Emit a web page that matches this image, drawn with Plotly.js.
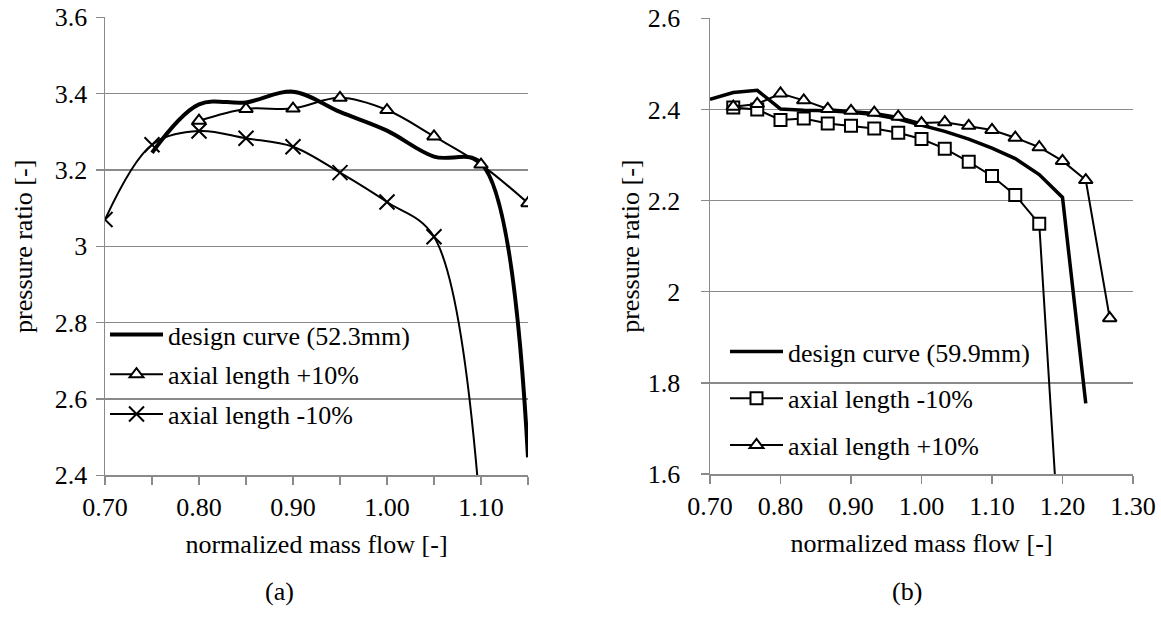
<!DOCTYPE html>
<html><head><meta charset="utf-8">
<script src="https://cdn.plot.ly/plotly-3.0.1.min.js"></script>
<style>html,body{margin:0;padding:0;background:#fff}#chart{width:1161px;height:624px}</style>
</head><body><div id="chart"></div>
<script>
// ---------- Panel (a) ----------
const aDesignX = [0.75, 0.80, 0.85, 0.90, 0.95, 1.00, 1.05, 1.10, 1.15];
const aDesignY = [3.245, 3.372, 3.377, 3.405, 3.352, 3.303, 3.235, 3.218, 2.447];
const aPlusX = [0.80, 0.85, 0.90, 0.95, 1.00, 1.05, 1.10, 1.15];
const aPlusY = [3.329, 3.360, 3.361, 3.389, 3.357, 3.288, 3.214, 3.113];
const aMinusX = [0.70, 0.75, 0.80, 0.85, 0.90, 0.95, 1.00, 1.05, 1.10];
const aMinusY = [3.070, 3.266, 3.302, 3.283, 3.261, 3.193, 3.116, 3.025, 2.280];
const aNames = ["design curve (52.3mm)", "axial length +10%", "axial length -10%"];
const aXTicks = [0.70, 0.75, 0.80, 0.85, 0.90, 0.95, 1.00, 1.05, 1.10, 1.15];
const aXText = ["0.70", "", "0.80", "", "0.90", "", "1.00", "", "1.10", ""];
const aYTicks = [2.4, 2.6, 2.8, 3.0, 3.2, 3.4, 3.6];
const aYText = ["2.4", "2.6", "2.8", "3", "3.2", "3.4", "3.6"];

// ---------- Panel (b) ----------
const bDesignX = [0.700, 0.733, 0.767, 0.800, 0.833, 0.867, 0.900, 0.933, 0.967, 1.000, 1.033, 1.067, 1.100, 1.133, 1.167, 1.200, 1.233];
const bDesignY = [2.422, 2.437, 2.442, 2.401, 2.398, 2.397, 2.394, 2.389, 2.379, 2.365, 2.352, 2.335, 2.315, 2.292, 2.257, 2.207, 1.755];
const bMinusX = [0.733, 0.767, 0.800, 0.833, 0.867, 0.900, 0.933, 0.967, 1.000, 1.033, 1.067, 1.100, 1.133, 1.167, 1.200];
const bMinusY = [2.404, 2.400, 2.377, 2.380, 2.369, 2.364, 2.358, 2.349, 2.335, 2.314, 2.285, 2.254, 2.212, 2.149, 1.330];
const bPlusX = [0.733, 0.767, 0.800, 0.833, 0.867, 0.900, 0.933, 0.967, 1.000, 1.033, 1.067, 1.100, 1.133, 1.167, 1.200, 1.233, 1.267];
const bPlusY = [2.406, 2.412, 2.435, 2.420, 2.401, 2.397, 2.393, 2.384, 2.370, 2.372, 2.364, 2.355, 2.338, 2.317, 2.287, 2.245, 1.942];
const bNames = ["design curve (59.9mm)", "axial length -10%", "axial length +10%"];
const bXTicks = [0.70, 0.80, 0.90, 1.00, 1.10, 1.20, 1.30];
const bXText = ["0.70", "0.80", "0.90", "1.00", "1.10", "1.20", "1.30"];
const bYTicks = [1.6, 1.8, 2.0, 2.2, 2.4, 2.6];
const bYText = ["1.6", "1.8", "2", "2.2", "2.4", "2.6"];

const xTitle = "normalized mass flow [-]";
const yTitle = "pressure ratio [-]";
const panelLabels = ["(a)", "(b)"];

const W = 1161, H = 624;
const FONT = "Liberation Serif";
const GRID = "#8a8a8a";
const fx = p => p / W;
const fy = p => 1 - p / H;

const traces = [
  {x: aDesignX, y: aDesignY, xaxis: 'x', yaxis: 'y', name: aNames[0], mode: 'lines',
   line: {color: '#000', width: 4, shape: 'spline', smoothing: 1}, legend: 'legend', legendgroup: 'a1'},
  {x: aPlusX, y: aPlusY, xaxis: 'x', yaxis: 'y', name: aNames[1], mode: 'lines+markers',
   line: {color: '#000', width: 2, shape: 'spline', smoothing: 1},
   marker: {symbol: 'triangle-up', size: 12, color: '#fff', line: {color: '#000', width: 2}},
   legend: 'legend', legendgroup: 'a2'},
  {x: aMinusX, y: aMinusY, xaxis: 'x', yaxis: 'y', name: aNames[2], mode: 'lines+markers',
   line: {color: '#000', width: 2, shape: 'spline', smoothing: 1},
   marker: {symbol: 'x-thin-open', size: 15, color: '#000', line: {color: '#000', width: 2}},
   legend: 'legend', legendgroup: 'a3'},
  {x: bDesignX, y: bDesignY, xaxis: 'x2', yaxis: 'y2', name: bNames[0], mode: 'lines',
   line: {color: '#000', width: 3.5}, legend: 'legend2', legendgroup: 'b1'},
  {x: bMinusX, y: bMinusY, xaxis: 'x2', yaxis: 'y2', name: bNames[1], mode: 'lines+markers',
   line: {color: '#000', width: 2},
   marker: {symbol: 'square', size: 12, color: '#fff', line: {color: '#000', width: 2}},
   legend: 'legend2', legendgroup: 'b2'},
  {x: bPlusX, y: bPlusY, xaxis: 'x2', yaxis: 'y2', name: bNames[2], mode: 'lines+markers',
   line: {color: '#000', width: 2},
   marker: {symbol: 'triangle-up', size: 12, color: '#fff', line: {color: '#000', width: 2}},
   legend: 'legend2', legendgroup: 'b3'}
];

const axisCommon = {
  showline: true, linecolor: GRID, linewidth: 1.5,
  ticks: 'outside', ticklen: 8, tickcolor: GRID, tickwidth: 1.5,
  tickfont: {family: FONT, size: 26, color: '#000'},
  tickmode: 'array', zeroline: false, fixedrange: true
};
const titleFont = {family: FONT, size: 26, color: '#000'};

const layout = {
  width: W, height: H, margin: {l: 0, r: 0, t: 0, b: 0},
  paper_bgcolor: '#fff', plot_bgcolor: '#fff',
  font: {family: FONT, color: '#000'},
  xaxis: Object.assign({}, axisCommon, {domain: [fx(105), fx(528)], range: [0.70, 1.15],
    tickvals: aXTicks, ticktext: aXText, showgrid: false, anchor: 'y',
    title: {text: xTitle, font: titleFont, standoff: 14}}),
  yaxis: Object.assign({}, axisCommon, {domain: [fy(475.3), fy(17.3)], range: [2.4, 3.6],
    tickvals: aYTicks, ticktext: aYText, showgrid: true, gridcolor: GRID, gridwidth: 1.5, anchor: 'x',
    ticklabelstandoff: 3,
    title: {text: yTitle, font: titleFont, standoff: 14}}),
  xaxis2: Object.assign({}, axisCommon, {domain: [fx(710), fx(1133)], range: [0.70, 1.30],
    tickvals: bXTicks, ticktext: bXText, showgrid: false, anchor: 'y2',
    title: {text: xTitle, font: titleFont, standoff: 14}}),
  yaxis2: Object.assign({}, axisCommon, {domain: [fy(474), fy(18.3)], range: [1.6, 2.6],
    tickvals: bYTicks, ticktext: bYText, showgrid: true, gridcolor: GRID, gridwidth: 1.5, anchor: 'x2',
    ticklabelstandoff: 15,
    title: {text: yTitle, font: titleFont, standoff: 0}}),
  legend: {x: fx(105), y: fy(311), xanchor: 'left', yanchor: 'top', bgcolor: 'rgba(0,0,0,0)',
    font: {family: FONT, size: 26, color: '#000'}, traceorder: 'grouped', tracegroupgap: 3,
    itemwidth: 53, borderwidth: 0},
  legend2: {x: fx(725), y: fy(328), xanchor: 'left', yanchor: 'top', bgcolor: 'rgba(0,0,0,0)',
    font: {family: FONT, size: 26, color: '#000'}, traceorder: 'grouped', tracegroupgap: 10,
    itemwidth: 53, borderwidth: 0},
  annotations: [
    {text: panelLabels[0], x: fx(279), y: fy(591), xref: 'paper', yref: 'paper', showarrow: false,
     xanchor: 'center', yanchor: 'middle', font: {family: FONT, size: 26, color: '#000'}},
    {text: panelLabels[1], x: fx(907), y: fy(591), xref: 'paper', yref: 'paper', showarrow: false,
     xanchor: 'center', yanchor: 'middle', font: {family: FONT, size: 26, color: '#000'}}
  ]
};

Plotly.newPlot('chart', traces, layout, {displayModeBar: false, staticPlot: true});
</script>
</body></html>
